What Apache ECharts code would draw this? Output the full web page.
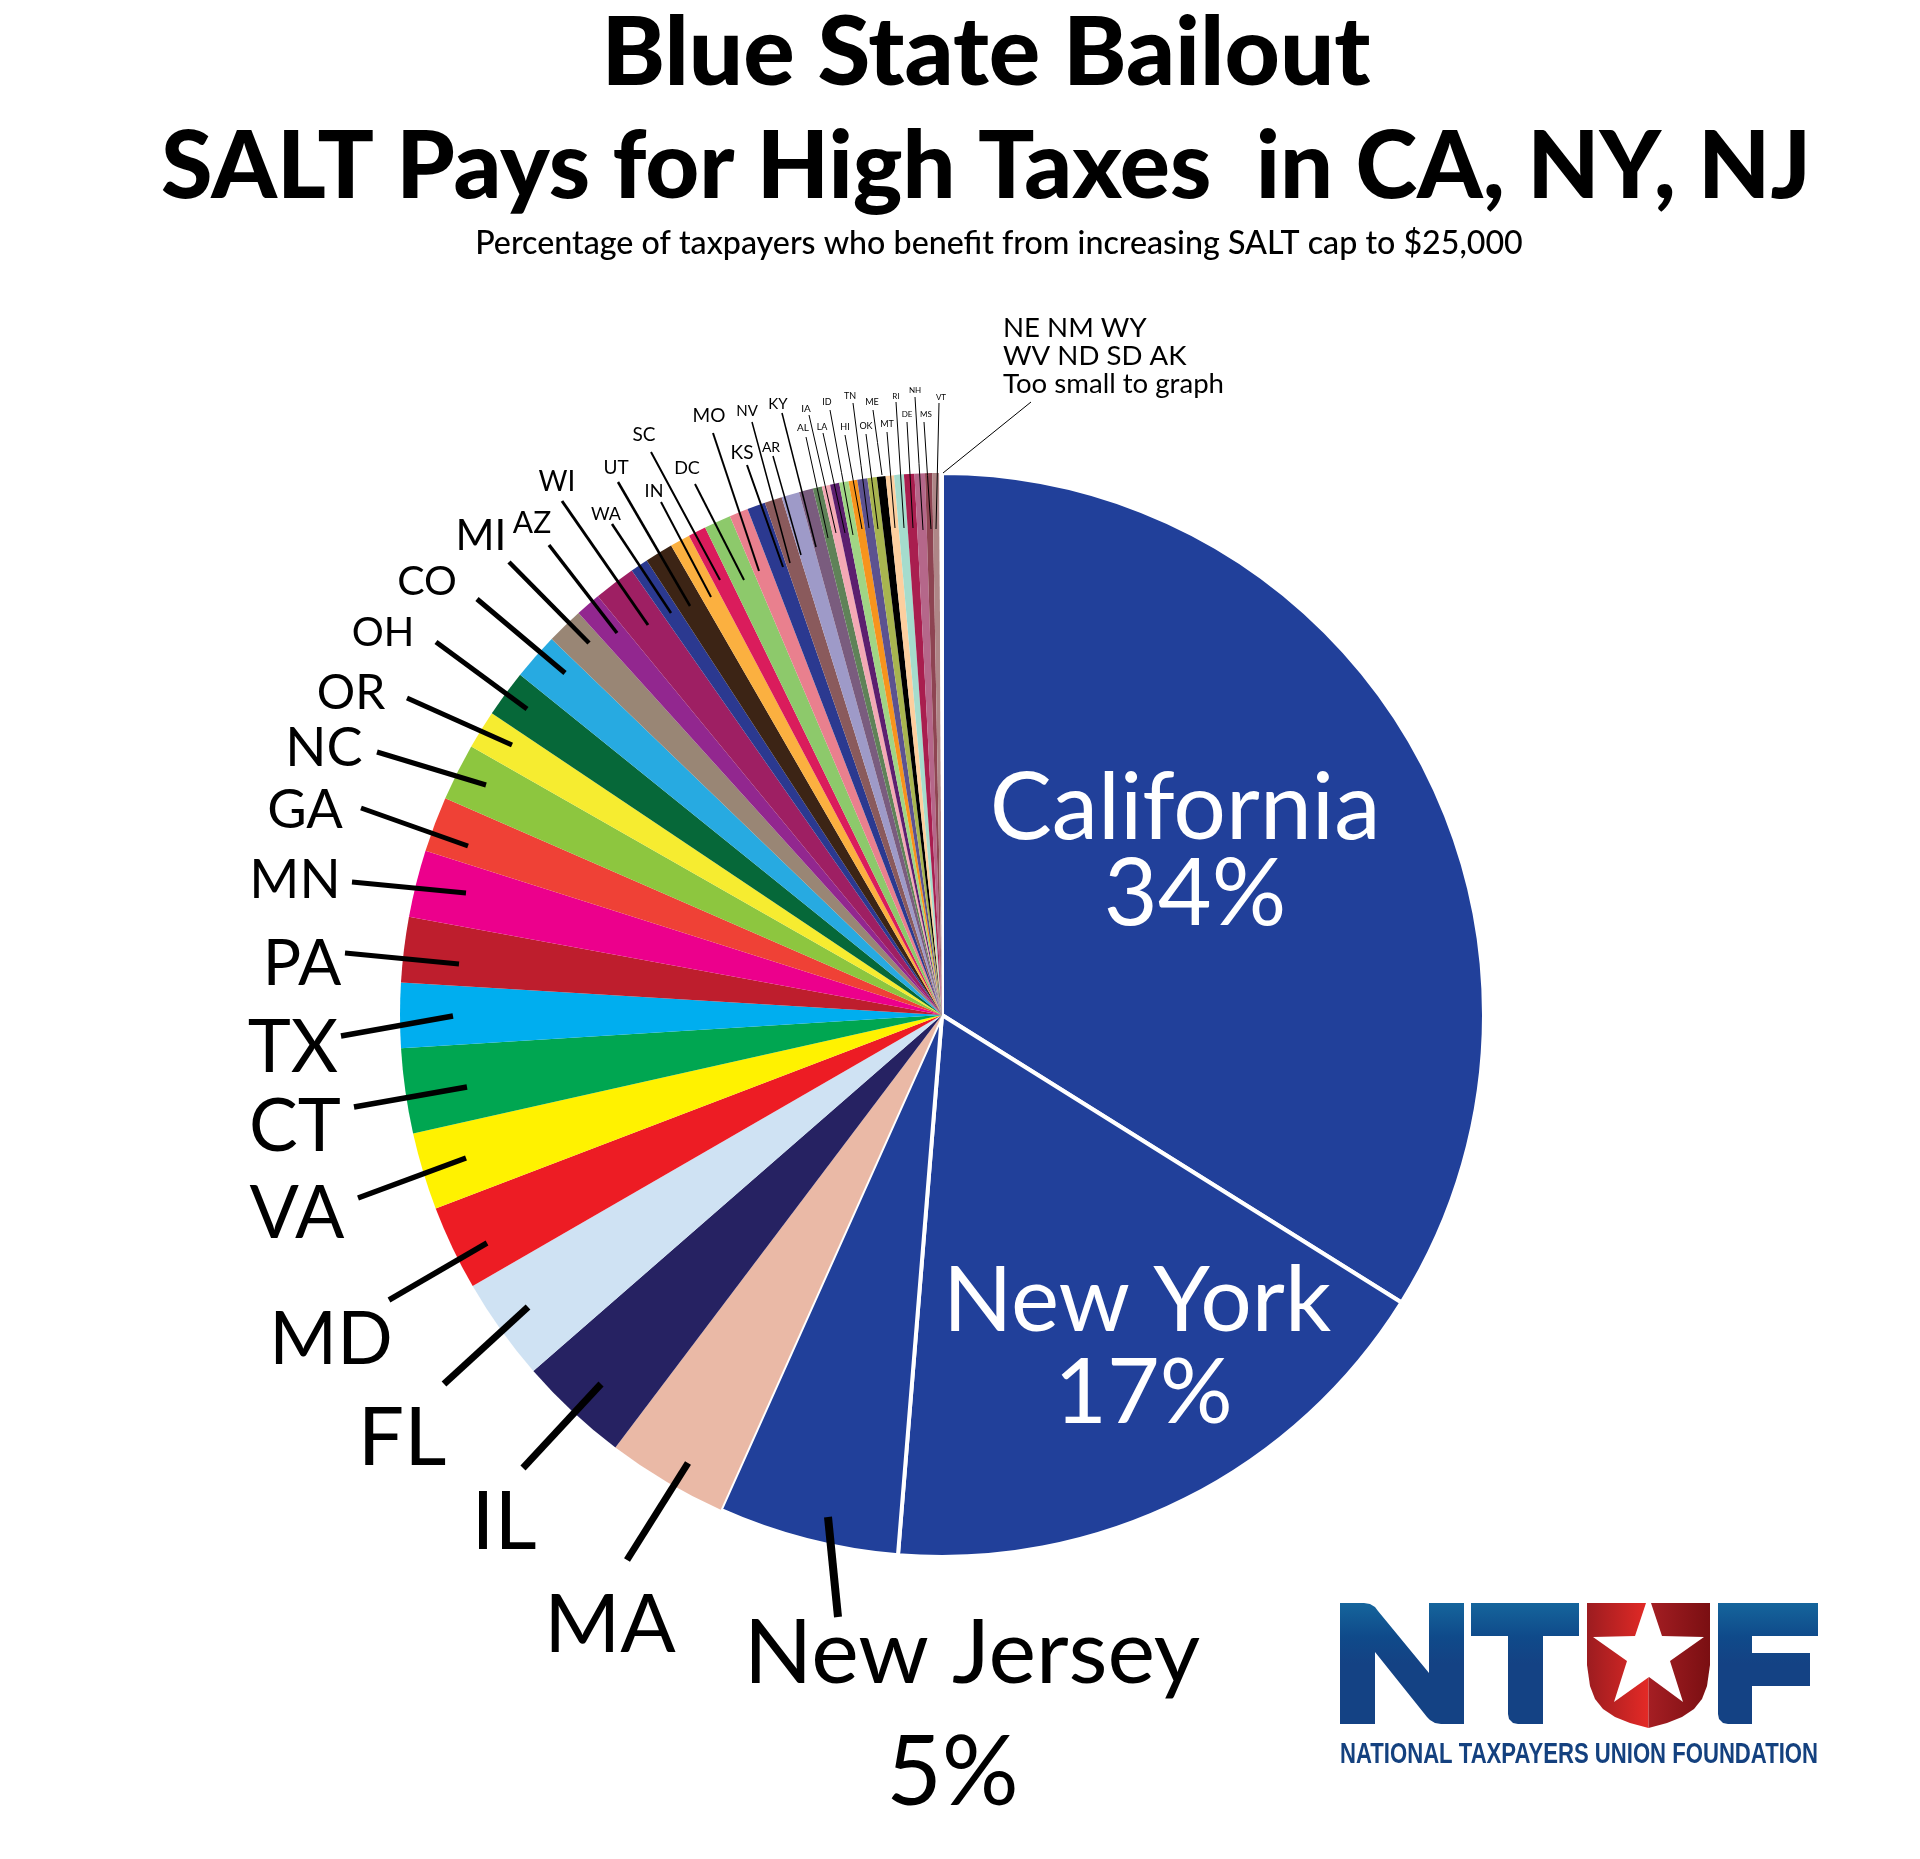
<!DOCTYPE html>
<html>
<head>
<meta charset="utf-8">
<style>html,body{margin:0;padding:0;background:#fff}#c{width:1920px;height:1859px}</style>
<script src="https://cdn.jsdelivr.net/npm/echarts@6/dist/echarts.min.js"></script>
</head>
<body>
<div id="c"></div>
<script>
// ---- data, clockwise from 12 o'clock ----
const states = ['California','New York','New Jersey','MA','IL','FL','MD','VA','CT','TX','PA','MN','GA','NC','OR','OH','CO','MI','AZ','WI','WA','UT','IN','SC','DC','MO','KS','NV','AR','KY','AL','IA','LA','ID','HI','TN','OK','ME','MT','RI','DE','NH','MS','VT','Too small to graph'];
const shares = [33.9,17.4,5.4,3.6,3.3,3.07,2.53,2.3,2.53,1.93,1.95,2.0,1.65,1.7,1.15,1.4,1.4,1.1,0.75,1.25,0.53,0.84,0.6,0.53,0.8,0.56,0.54,0.52,0.53,0.42,0.27,0.25,0.27,0.28,0.26,0.3,0.28,0.26,0.25,0.29,0.31,0.31,0.21,0.21,0.08];
const colors = ['#21409a','#21409a','#21409a','#eab9a6','#262262','#cfe2f3','#ed1c24','#fff200','#00a651','#00aeef','#be1e2d','#ec008c','#ef4136','#8dc63f','#f6ec30','#066839','#27aae1','#998675','#92278f','#9e1f63','#2b3990','#3c2415','#fbb040','#da1c5c','#8dc96b','#e9808e','#2b3990','#8a5a5c','#9e9ac8','#7a5c7e','#5f8258','#f4a9b5','#5c1f6f','#a0d585','#f7941d','#5c5290','#a8b54f','#000000','#fdcf9f','#a5dccd','#a91e4f','#b5678a','#8e4452','#ae8687','#ffffff'];
const smallStates = 'NE NM WY\nWV ND SD AK\nToo small to graph';

const titleLines = ['Blue State Bailout','SALT Pays for High Taxes  in CA, NY, NJ'];
const subtitle = 'Percentage of taxpayers who benefit from increasing SALT cap to $25,000';
const logoCaption = 'NATIONAL TAXPAYERS UNION FOUNDATION';

// ---- label placement: [label x, label y, font size, line width, x0,y0, x1,y1] ----
const place = {
  'California':[1185,852,93,0],
  'New York':[1137,1348,91,0],
  'New Jersey':[972,1714,90,8,838,1617,828,1517],
  MA:[610,1626,82,7,627,1560,688,1463],
  IL:[504,1523,82,7,523,1468,601,1384],
  FL:[402,1439,82,7,444,1384,528,1307],
  MD:[331,1340,73,5.5,389,1300,487,1243],
  VA:[297,1214,73,5.5,358,1198,466,1158],
  CT:[295,1127,73,5.5,354,1107,467,1087],
  TX:[293,1048,73,5.5,341,1036,453,1016],
  PA:[302,964,64,5,345,953,459,964],
  MN:[295,881,54,5,352,882,466,893],
  GA:[305,811,54,5,361,808,468,846],
  NC:[324,749,54,5,377,752,486,785],
  OR:[351,694,48,5,407,698,512,745],
  OH:[383,633,40,5,436,642,527,709],
  CO:[427,582,41,5,477,599,565,673],
  MI:[481,536,42,4.5,509,562,589,643],
  AZ:[532,523,30,3.5,549,545,617,633],
  WI:[557,482,28,3,562,501,648,625],
  WA:[606,514,18,2.5,612,524,671,613],
  UT:[616,468,19,2.5,618,482,690,606],
  IN:[654,491,18,2,661,502,711,597],
  SC:[644,435,19,2,651,452,720,580],
  DC:[687,468,18,2,695,484,744,580],
  MO:[709,416,19,2,713,433,759,571],
  KS:[742,453,19,2,747,465,783,567],
  NV:[747,411,15,1.5,752,422,790,563],
  AR:[771,447,14,1.5,773,456,801,555],
  KY:[778,404,15,1.5,782,413,816,547],
  AL:[803,428,10,1,806,437,828,538],
  IA:[806,409,10,1,809,415,836,533],
  LA:[822,427,9,1,823,433,845,533],
  ID:[827,402,9,1,830,410,853,535],
  HI:[845,427,9,1,845,435,862,529],
  TN:[850,396,9,1,853,403,869,528],
  OK:[866,426,9,1,866,434,878,529],
  ME:[872,402,9,1,873,410,882,475],
  MT:[887,424,9,1,887,432,895,528],
  RI:[896,396,8,1,896,402,904,528],
  DE:[907,414,8,1,907,422,913,528],
  NH:[915,390,8,1,915,397,923,530],
  MS:[926,414,8,1,924,422,931,529],
  VT:[941,397,8,1,939,403,936,529],
  'Too small to graph':[1003,356,27.6,1,1031,402,943,473]
};

const FONT = 'Lato';
const richLine = (size,color,padding)=>({fontSize:size,fontFamily:FONT,color,padding});

// Slices: the colours, with no labels.
const sliceData = states.map((name,i)=>({
  name, value: shares[i],
  itemStyle: i < 3 ? {color: colors[i], borderColor:'#fff', borderWidth: 4} : {color: colors[i]}
}));

// Same values in a transparent pie above, so leader lines run over the slices.
const labelData = states.map((name,i)=>{
  const p = place[name];
  const d = {
    name, value: shares[i],
    itemStyle: {color:'transparent'},
    labelLine: {show: p[3] > 0, lineStyle: {color:'#000', width: p[3], cap:'butt'}},
    label: {fontSize:p[2], color:'#000', fontFamily:FONT, fontWeight:400, align:'center', lineHeight:p[2]*1.15}
  };
  if (name === 'California') Object.assign(d.label,{
    formatter:'{a|California}\n{b|34%}',
    rich:{a:Object.assign(richLine(93,'#fff',[0,0,0,0]),{lineHeight:86}),b:Object.assign(richLine(93,'#fff',[0,0,0,20]),{lineHeight:86})}
  });
  if (name === 'New York') Object.assign(d.label,{
    formatter:'{a|New York}\n{b|17%}',
    rich:{a:Object.assign(richLine(91,'#fff',[0,0,0,0]),{lineHeight:92}),b:Object.assign(richLine(91,'#fff',[0,0,0,13]),{lineHeight:92})}
  });
  if (name === 'New Jersey') Object.assign(d.label,{
    formatter:'{a|New Jersey}\n{b|5%}',
    rich:{a:Object.assign(richLine(90,'#000',[0,0,0,0]),{lineHeight:120}),b:Object.assign(richLine(96,'#000',[0,39,0,0]),{lineHeight:120})}
  });
  if (name === 'Too small to graph') Object.assign(d.label,{formatter:smallStates,align:'left',lineHeight:28});
  return d;
});

// logo shapes, drawn as graphic polygons
const logoN = [[1340,1603],[1364,1603],[1370,1604],[1375,1607],[1378,1611],[1429,1673],[1429,1603],[1464,1603],[1464,1724],[1441,1724],[1435,1723],[1430,1720],[1427,1717],[1375,1652],[1375,1724],[1340,1724]];
const logoT = [[1471,1603],[1579,1603],[1579,1636],[1543,1636],[1543,1724],[1518,1724],[1513,1723],[1509,1719],[1508,1714],[1508,1636],[1471,1636]];
const logoF = [[1718,1603],[1818,1603],[1818,1636],[1752,1636],[1752,1653],[1810,1653],[1810,1686],[1752,1686],[1752,1724],[1728,1724],[1723,1723],[1719,1719],[1718,1714]];
const shieldL = [[1587,1603],[1648.5,1603],[1648.5,1728],[1630,1723],[1615,1717],[1603,1709],[1595,1699],[1590,1686],[1587,1665]];
const shieldR = [[1648.5,1603],[1710,1603],[1710,1665],[1707,1686],[1702,1699],[1694,1709],[1682,1717],[1667,1723],[1648.5,1728]];
const star = [[1646,1603],[1651,1603],[1662,1636],[1704,1637],[1670,1661],[1683,1702],[1649,1677],[1614,1702],[1627,1661],[1593,1637],[1635,1636]];

const capFont = '700 29px "Liberation Sans"';
const mctx = document.createElement('canvas').getContext('2d');
mctx.font = capFont;
const capScale = 478 / mctx.measureText(logoCaption).width;

const chart = echarts.init(document.getElementById('c'),null,{renderer:'canvas'});
const logoGrad = {type:'linear',x:0,y:0,x2:0,y2:1,colorStops:[{offset:0,color:'#15659c'},{offset:0.28,color:'#0f4a8a'},{offset:0.5,color:'#144284'},{offset:1,color:'#144284'}]};
const pieBase = {type:'pie',silent:true,center:[942,1015],radius:[0,542],startAngle:90,clockwise:true,avoidLabelOverlap:false,minShowLabelAngle:0,percentPrecision:2};
chart.setOption({
  animation:false,
  backgroundColor:'#fff',
  title:[
    {text:titleLines[0],left:981,top:-3,textAlign:'center',textStyle:{fontFamily:FONT,fontWeight:900,fontSize:96,color:'#000',lineHeight:104}},
    {text:titleLines[1],left:981,top:111,textAlign:'center',textStyle:{fontFamily:FONT,fontWeight:900,fontSize:93.6,color:'#000',lineHeight:104}},
    {text:subtitle,left:994,top:221,textAlign:'center',textStyle:{fontFamily:FONT,fontWeight:500,fontSize:32.2,color:'#000',lineHeight:36}}
  ],
  series:[
    Object.assign({},pieBase,{z:2,label:{show:false},labelLine:{show:false},data:sliceData}),
    Object.assign({},pieBase,{
      z:3,
      label:{show:true,position:'outside'},
      labelLine:{show:true,length:10,length2:10},
      labelLayout:function(params){
        const p = place[states[params.dataIndex]];
        const small = states[params.dataIndex]==='Too small to graph';
        const out = {x:p[0],y:p[1],align:small?'left':'center',verticalAlign:'middle',hideOverlap:false};
        if (p[3] > 0) out.labelLinePoints=[[p[4],p[5]],[(p[4]+p[6])/2,(p[5]+p[7])/2],[p[6],p[7]]];
        return out;
      },
      data:labelData
    })
  ],
  graphic:[
    {type:'polygon',silent:true,shape:{points:logoN},style:{fill:logoGrad}},
    {type:'polygon',silent:true,shape:{points:logoT},style:{fill:logoGrad}},
    {type:'polygon',silent:true,shape:{points:logoF},style:{fill:logoGrad}},
    {type:'polygon',silent:true,shape:{points:shieldL},style:{fill:{type:'linear',x:0,y:0,x2:1,y2:0,colorStops:[{offset:0,color:'#9c1c20'},{offset:1,color:'#e42a26'}]}}},
    {type:'polygon',silent:true,shape:{points:shieldR},style:{fill:{type:'linear',x:0,y:0,x2:1,y2:0,colorStops:[{offset:0,color:'#a51e23'},{offset:1,color:'#7a0f12'}]}}},
    {type:'polygon',silent:true,shape:{points:star},style:{fill:'#fff'}},
    {type:'text',silent:true,x:1340,y:1755,scaleX:capScale,style:{text:logoCaption,fontFamily:'"Liberation Sans"',fontWeight:700,fontSize:29,fill:'#14417f',textAlign:'left',textVerticalAlign:'middle'}}
  ]
});
</script>
</body>
</html>
